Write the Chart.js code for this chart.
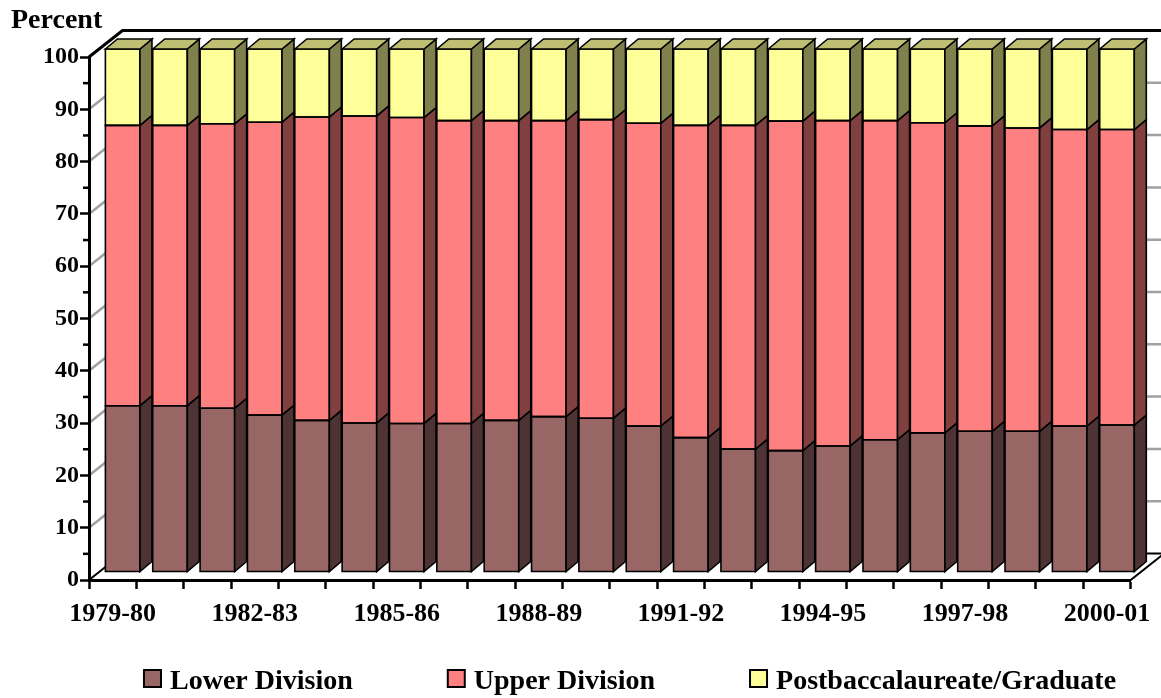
<!DOCTYPE html>
<html>
<head>
<meta charset="utf-8">
<title>Enrollment by Level</title>
<script src="https://cdn.jsdelivr.net/npm/chart.js@4.4.1/dist/chart.umd.min.js"></script>
<style>
  html, body { margin: 0; padding: 0; background: #fff; }
</style>
</head>
<body>
<canvas id="chart" width="1161" height="698"></canvas>
<script>
// academic years
const years = ['1979-80', '1980-81', '1981-82', '1982-83', '1983-84', '1984-85', '1985-86', '1986-87',
  '1987-88', '1988-89', '1989-90', '1990-91', '1991-92', '1992-93', '1993-94', '1994-95',
  '1995-96', '1996-97', '1997-98', '1998-99', '1999-00', '2000-01'];

// percent of enrollment in each level
const lowerDivision = [31.8, 31.8, 31.3, 30.0, 29.0, 28.5, 28.4, 28.4, 29.0, 29.7, 29.4,
  27.9, 25.7, 23.5, 23.2, 24.1, 25.3, 26.6, 26.9, 26.9, 27.9, 28.1];
const upperDivision = [53.6, 53.6, 54.4, 56.0, 58.0, 58.7, 58.5, 57.9, 57.3, 56.6, 57.1,
  57.9, 59.7, 61.9, 63.0, 62.2, 61.0, 59.3, 58.4, 58.0, 56.7, 56.5];
const postbaccGraduate = [14.6, 14.6, 14.3, 14.0, 13.0, 12.8, 13.1, 13.7, 13.7, 13.7, 13.5,
  14.2, 14.6, 14.6, 13.8, 13.7, 13.7, 14.1, 14.7, 15.1, 15.4, 15.4];

const yTicks = [0, 10, 20, 30, 40, 50, 60, 70, 80, 90, 100];

const SERIF = '"Liberation Serif", "Times New Roman", serif';

// 3D look: walls recede up-right, bars sit a bit inside the box
const WALL = { x: 33.5, y: 26.5 };
const SHIFT = { x: 10, y: -8 };
const DEPTH = { x: 12, y: 10 };

const sideColors = ['#4d3333', '#804040', '#80804d'];
const topColor = '#bfbf73';

function poly(ctx, pts, fill) {
    ctx.beginPath();
    ctx.moveTo(pts[0][0], pts[0][1]);
    for (let i = 1; i < pts.length; i++) ctx.lineTo(pts[i][0], pts[i][1]);
    ctx.closePath();
    if (fill) {
        ctx.fillStyle = fill;
        ctx.fill();
    }
    ctx.stroke();
}

const scene3d = {
    id: 'scene3d',
    beforeDraw(chart) {
        const { ctx, chartArea: a } = chart;
        const y = chart.scales.y;
        const y0 = y.getPixelForValue(0);
        ctx.save();

        // floor
        ctx.strokeStyle = '#000';
        ctx.lineWidth = 2;
        poly(ctx, [[a.left, y0], [a.left + WALL.x, y0 - WALL.y], [a.right + WALL.x, y0 - WALL.y], [a.right, y0]], '#fff');

        // gridlines on side and back walls
        ctx.strokeStyle = '#a0a0a0';
        ctx.lineWidth = 2.5;
        yTicks.slice(1, -1).forEach(v => {
            const py = y.getPixelForValue(v);
            ctx.beginPath();
            ctx.moveTo(a.left, py);
            ctx.lineTo(a.left + WALL.x, py - WALL.y);
            ctx.lineTo(a.right + WALL.x, py - WALL.y);
            ctx.stroke();
        });

        // top edge of the walls
        const yt = y.getPixelForValue(100);
        ctx.strokeStyle = '#000';
        ctx.lineWidth = 3;
        ctx.beginPath();
        ctx.moveTo(a.left, yt);
        ctx.lineTo(a.left + WALL.x, yt - WALL.y);
        ctx.lineTo(a.right + WALL.x, yt - WALL.y);
        ctx.stroke();

        ctx.restore();
    },
    beforeDatasetsDraw(chart) {
        chart.ctx.save();
        chart.ctx.translate(SHIFT.x, SHIFT.y);
    },
    afterDatasetsDraw(chart) {
        const ctx = chart.ctx;
        ctx.lineWidth = 1.6;
        ctx.strokeStyle = '#000';
        ctx.lineJoin = 'miter';
        const last = chart.data.datasets.length - 1;
        chart.data.datasets.forEach((ds, di) => {
            chart.getDatasetMeta(di).data.forEach(bar => {
                const { x, y, base, width } = bar.getProps(['x', 'y', 'base', 'width'], true);
                const l = x - width / 2, r = x + width / 2;
                // outline of the front face
                poly(ctx, [[l, y], [r, y], [r, base], [l, base]], null);
                // right side face
                poly(ctx, [[r, y], [r + DEPTH.x, y - DEPTH.y], [r + DEPTH.x, base - DEPTH.y], [r, base]], sideColors[di]);
                // top face of the stack
                if (di === last) {
                    poly(ctx, [[l, y], [l + DEPTH.x, y - DEPTH.y], [r + DEPTH.x, y - DEPTH.y], [r, y]], topColor);
                }
            });
        });
        ctx.restore();
    },
    afterDraw(chart) {
        const { ctx, chartArea: a } = chart;
        const y = chart.scales.y;
        ctx.save();

        // minor ticks on the value axis
        ctx.strokeStyle = '#000';
        ctx.lineWidth = 2.5;
        for (let i = 0; i < yTicks.length - 1; i++) {
            const py = y.getPixelForValue((yTicks[i] + yTicks[i + 1]) / 2);
            ctx.beginPath();
            ctx.moveTo(a.left - 6, py);
            ctx.lineTo(a.left, py);
            ctx.stroke();
        }

        // axis title
        ctx.fillStyle = '#000';
        ctx.textBaseline = 'alphabetic';
        ctx.textAlign = 'left';
        ctx.font = 'bold 28px ' + SERIF;
        ctx.fillText('Percent', 11, 28);

        // legend
        ctx.font = 'bold 28px ' + SERIF;
        ctx.lineWidth = 2;
        let lx = 144;
        chart.data.datasets.forEach(ds => {
            ctx.fillStyle = ds.backgroundColor;
            ctx.fillRect(lx, 670, 17, 17);
            ctx.strokeRect(lx, 670, 17, 17);
            ctx.fillStyle = '#000';
            ctx.fillText(ds.label, lx + 26, 689);
            lx += 26 + ctx.measureText(ds.label).width + 95;
        });
        ctx.restore();
    }
};

const ctx = document.getElementById('chart').getContext('2d');

new Chart(ctx, {
    type: 'bar',
    data: {
        labels: years,
        datasets: [
            { label: 'Lower Division', data: lowerDivision, backgroundColor: '#996666' },
            { label: 'Upper Division', data: upperDivision, backgroundColor: '#ff8080' },
            { label: 'Postbaccalaureate/Graduate', data: postbaccGraduate, backgroundColor: '#ffff99' },
        ].map(ds => Object.assign(ds, {
            borderWidth: 0,
            categoryPercentage: 1,
            barPercentage: 0.73,
            clip: false,
        })),
    },
    options: {
        responsive: false,
        animation: false,
        devicePixelRatio: 1,
        layout: { padding: { top: 57, right: 29, bottom: 0, left: 0 } },
        plugins: {
            legend: { display: false },
            tooltip: { enabled: false },
        },
        scales: {
            x: {
                stacked: true,
                grid: {
                    offset: true,
                    drawOnChartArea: false,
                    drawTicks: true,
                    tickLength: 9,
                    tickWidth: 2.5,
                    tickColor: '#000',
                },
                border: { display: true, color: '#000', width: 3 },
                ticks: {
                    autoSkip: false,
                    maxRotation: 0,
                    padding: 10,
                    color: '#000',
                    font: { family: SERIF, size: 26, weight: 'bold' },
                    callback: (v, i) => (i % 3 === 0 ? years[i] : ''),
                },
                afterFit: scale => { scale.height = 118; },
            },
            y: {
                stacked: true,
                min: 0,
                max: 100,
                grid: {
                    drawOnChartArea: false,
                    drawTicks: true,
                    tickLength: 9,
                    tickWidth: 2.5,
                    tickColor: '#000',
                },
                border: { display: true, color: '#000', width: 3 },
                ticks: {
                    stepSize: 10,
                    padding: 1,
                    color: '#000',
                    font: { family: SERIF, size: 24, weight: 'bold' },
                },
                afterFit: scale => { scale.width = 89; },
            },
        },
    },
    plugins: [scene3d],
});
</script>
</body>
</html>
